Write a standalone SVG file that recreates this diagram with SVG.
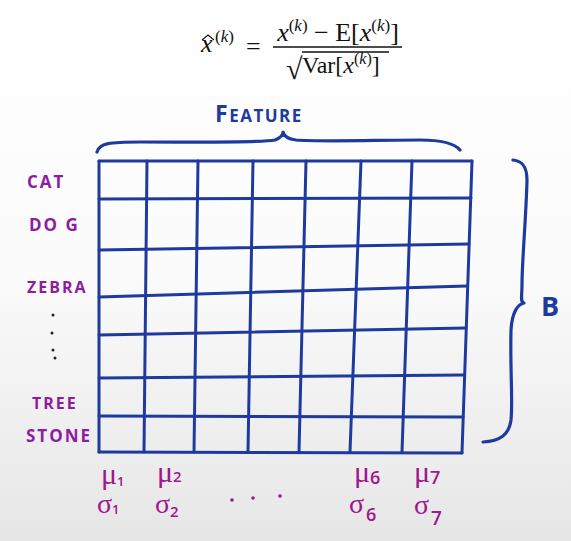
<svg xmlns="http://www.w3.org/2000/svg" width="571" height="541" viewBox="0 0 571 541">
<defs>
<linearGradient id="bg" x1="0" y1="0" x2="0" y2="1">
<stop offset="0" stop-color="#ffffff"/>
<stop offset="0.5" stop-color="#fbfbfb"/>
<stop offset="1" stop-color="#e6e6e6"/>
</linearGradient>
<style>
.grid{stroke:#1f3a9e;stroke-width:3;fill:none;stroke-linecap:round}
.brace{stroke:#1f3a9e;stroke-width:3.2;fill:none;stroke-linecap:round;stroke-linejoin:round}
.lab{font-family:"Open Sans","Liberation Sans",sans-serif;font-weight:700;fill:#8e1ca0;letter-spacing:2px}
.stat{font-family:"Liberation Serif",serif;fill:#a0168e}
.sub{font-family:"Open Sans",sans-serif;fill:#a0168e;font-weight:600}
.math{font-family:"Liberation Serif","DejaVu Serif",serif;fill:#111}
.it{font-style:italic}
.blue{font-family:"Open Sans","Liberation Sans",sans-serif;font-weight:700;fill:#1f3a9e}
</style>
</defs>
<rect width="571" height="541" fill="url(#bg)"/>

<g id="formula">
<text class="math it" x="201" y="52" font-size="26">x</text>
<polyline points="202,40 208,35 214,40" fill="none" stroke="#111" stroke-width="1.1"/>
<text class="math" x="215" y="42" font-size="17">(<tspan class="it">k</tspan>)</text>
<text class="math" x="246" y="55" font-size="26">=</text>
<text class="math" x="338" y="41" font-size="26" text-anchor="middle"><tspan class="it">x</tspan><tspan font-size="17" dy="-10">(<tspan class="it">k</tspan>)</tspan><tspan dy="10"> − E[</tspan><tspan class="it">x</tspan><tspan font-size="17" dy="-10">(<tspan class="it">k</tspan>)</tspan><tspan dy="10">]</tspan></text>
<line x1="273" y1="47" x2="402" y2="47" stroke="#111" stroke-width="1.3"/>
<text class="math" x="286" y="79" font-size="30">√</text>
<line x1="302" y1="52" x2="389" y2="52" stroke="#111" stroke-width="1.3"/>
<text class="math" x="302" y="73" font-size="24">Var[<tspan class="it">x</tspan><tspan font-size="16" dy="-9">(<tspan class="it">k</tspan>)</tspan><tspan dy="9">]</tspan></text>
</g>

<g id="feature-label">
<text class="blue" x="215" y="122" font-size="17" letter-spacing="1.5"><tspan font-size="23">F</tspan>EATURE</text>
<path class="brace" d="M97,152 C99,143 110,142 140,142 C200,142 260,143 275,140 C280,138 283,135 283,132 C284,136 288,139 296,140 C320,142 380,140 420,140 C445,140 455,144 460,150"/>
</g>

<g id="batch-label">
<path class="brace" d="M513,160 C522,161 527,166 527,180 C526,220 522,260 522,285 C522,296 520,302 524,303 C518,304 512,312 511,330 C510,370 513,400 511,420 C509,435 500,441 483,442"/>
<text class="blue" x="541" y="316" font-size="27" font-weight="600">B</text>
</g>

<g id="grid">
<line class="grid" x1="99" y1="161" x2="472" y2="161"/>
<line class="grid" x1="99" y1="199" x2="471" y2="198"/>
<line class="grid" x1="99" y1="250" x2="469" y2="244"/>
<line class="grid" x1="99" y1="297" x2="467" y2="286"/>
<line class="grid" x1="99" y1="335" x2="466" y2="328"/>
<line class="grid" x1="99" y1="378" x2="464" y2="375"/>
<line class="grid" x1="99" y1="416" x2="463" y2="417"/>
<line class="grid" x1="99" y1="452" x2="462" y2="453"/>
<line class="grid" x1="99" y1="161" x2="99" y2="452"/>
<line class="grid" x1="147" y1="161" x2="144" y2="452"/>
<line class="grid" x1="198" y1="161" x2="194" y2="452"/>
<line class="grid" x1="253" y1="161" x2="248" y2="452"/>
<line class="grid" x1="306" y1="161" x2="299" y2="452"/>
<line class="grid" x1="361" y1="161" x2="350" y2="452"/>
<line class="grid" x1="412" y1="161" x2="402" y2="452"/>
<line class="grid" x1="472" y1="161" x2="462" y2="453"/>
</g>

<g id="row-labels">
<text class="lab" x="27" y="188" font-size="17">CAT</text>
<text class="lab" x="29" y="231" font-size="17">DO G</text>
<text class="lab" x="27" y="293" font-size="16" letter-spacing="0.3">ZEBRA</text>
<g fill="#222">
<circle cx="53" cy="315" r="1.5"/>
<circle cx="52" cy="333" r="1.5"/>
<circle cx="53" cy="350" r="1.5"/>
<circle cx="55" cy="358" r="1.5"/>
</g>
<text class="lab" x="32" y="409" font-size="16" letter-spacing="1.5">TREE</text>
<text class="lab" x="26" y="442" font-size="17" letter-spacing="0">STONE</text>
</g>

<g id="col-stats">
<text class="stat" x="101" y="484" font-size="30">μ<tspan class="sub" font-size="13" dy="2">1</tspan></text>
<text class="stat" x="157" y="482" font-size="30">μ<tspan class="sub" font-size="15" dy="0">2</tspan></text>
<text class="stat" x="354" y="482" font-size="30">μ<tspan class="sub" font-size="18" dy="2">6</tspan></text>
<text class="stat" x="414" y="482" font-size="30">μ<tspan class="sub" font-size="18" dy="2">7</tspan></text>
<text class="stat" x="97" y="513" font-size="28">σ<tspan class="sub" font-size="13" dy="1">1</tspan></text>
<text class="stat" x="155" y="513" font-size="28">σ<tspan class="sub" font-size="15" dy="4">2</tspan></text>
<text class="stat" x="349" y="513" font-size="28">σ<tspan class="sub" font-size="18" dx="2" dy="8">6</tspan></text>
<text class="stat" x="414" y="514" font-size="28">σ<tspan class="sub" font-size="19" dx="2" dy="11">7</tspan></text>
<g fill="#a0168e">
<circle cx="232" cy="500" r="1.8"/>
<circle cx="253" cy="498" r="1.8"/>
<circle cx="280" cy="496" r="1.8"/>
</g>
</g>
</svg>
